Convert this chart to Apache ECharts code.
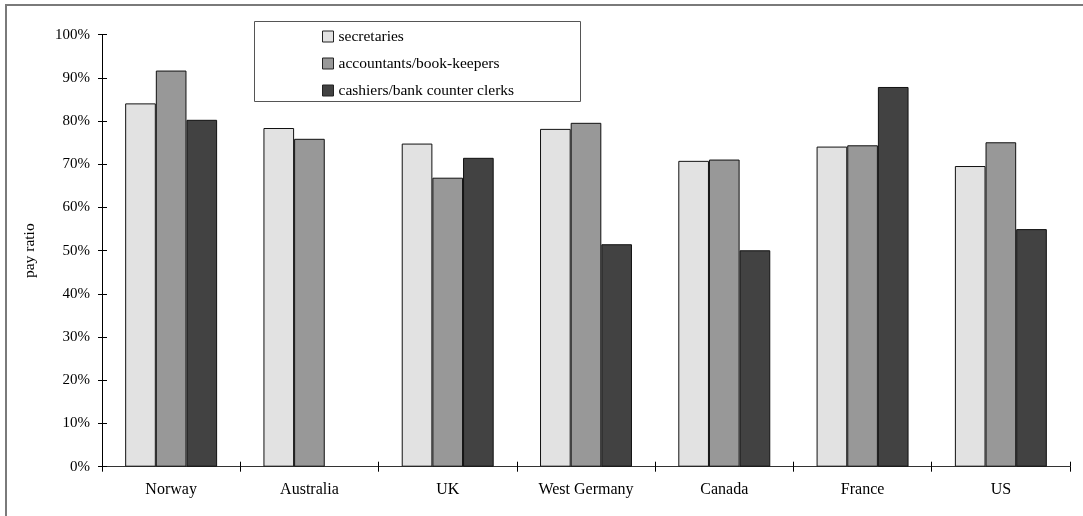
<!DOCTYPE html>
<html>
<head>
<meta charset="utf-8">
<script src="https://cdn.jsdelivr.net/npm/echarts@6/dist/echarts.min.js"></script>
<style>
  html, body { margin: 0; padding: 0; background: #fff; }
  #chart { width: 1083px; height: 516px; }
</style>
</head>
<body>
<div id="chart"></div>
<script>
// Pay ratio by occupation and country
const categories = ['Norway', 'Australia', 'UK', 'West Germany', 'Canada', 'France', 'US'];
const seriesNames = ['secretaries', 'accountants/book-keepers', 'cashiers/bank counter clerks'];
const secretaries = [84.1, 78.4, 74.8, 78.2, 70.8, 74.1, 69.6];
const accountants = [91.7, 75.9, 66.9, 79.6, 71.1, 74.4, 75.1];
const cashiers = [80.3, null, 71.5, 51.5, 50.1, 87.9, 55.0];
const yTicks = { min: 0, max: 100, interval: 10 };

const FONT = '"Liberation Serif", "Times New Roman", serif';
const colors = ['#e2e2e2', '#989898', '#424242'];
const values = [secretaries, accountants, cashiers];

const chart = echarts.init(document.getElementById('chart'), null, { renderer: 'canvas' });

const grid = { left: 102, right: 13, top: 34.7, bottom: 49.3, containLabel: false };

const option = {
  backgroundColor: '#fff',
  animation: false,
  textStyle: { fontFamily: FONT },
  grid: grid,
  graphic: [
    // outer frame
    { type: 'rect', shape: { x: 6, y: 5, width: 1100, height: 530 },
      style: { fill: 'none', stroke: '#7a7a7a', lineWidth: 2 }, silent: true, z: -1 },
    // legend frame
    { type: 'rect', shape: { x: 254.5, y: 21.5, width: 326, height: 80 },
      style: { fill: '#fff', stroke: '#555', lineWidth: 1 }, silent: true, z: 0 }
  ],
  legend: {
    orient: 'vertical',
    left: 322,
    top: 28.5,
    padding: 0,
    itemWidth: 11,
    itemHeight: 11,
    itemGap: 11,
    itemTextGap: 2,
    icon: 'rect',
    z: 10,
    itemStyle: { borderColor: '#222', borderWidth: 1 },
    textStyle: { fontFamily: FONT, fontSize: 15.5, color: '#000', lineHeight: 15 },
    data: seriesNames
  },
  xAxis: [
    {
      type: 'category',
      data: categories,
      boundaryGap: true,
      axisLine: { show: true, lineStyle: { color: '#333', width: 1 } },
      axisTick: { show: true, alignWithLabel: false, inside: false, length: 5, lineStyle: { color: '#000' } },
      axisLabel: { fontFamily: FONT, fontSize: 16, color: '#000', margin: 15, interval: 0 },
      splitLine: { show: false }
    },
    {
      type: 'category',
      data: categories,
      position: 'bottom',
      boundaryGap: true,
      axisLine: { show: false },
      axisTick: { show: true, inside: true, length: 5, lineStyle: { color: '#000' } },
      axisLabel: { show: false },
      splitLine: { show: false }
    }
  ],
  yAxis: [
    {
      type: 'value',
      min: yTicks.min,
      max: yTicks.max,
      interval: yTicks.interval,
      name: 'pay ratio',
      nameLocation: 'middle',
      nameRotate: 90,
      nameGap: 64,
      nameTextStyle: { fontFamily: FONT, fontSize: 15.5, color: '#000' },
      axisLine: { show: true, lineStyle: { color: '#000', width: 1 } },
      axisTick: { show: true, inside: false, length: 4, lineStyle: { color: '#000' } },
      axisLabel: { fontFamily: FONT, fontSize: 15, color: '#000', margin: 12, formatter: '{value}%' },
      splitLine: { show: false }
    },
    {
      type: 'value',
      position: 'left',
      min: yTicks.min,
      max: yTicks.max,
      interval: yTicks.interval,
      axisLine: { show: false },
      axisTick: { show: true, inside: true, length: 5, lineStyle: { color: '#000' } },
      axisLabel: { show: false },
      splitLine: { show: false }
    }
  ],
  series: seriesNames.map((name, i) => ({
    name: name,
    type: 'bar',
    xAxisIndex: 0,
    yAxisIndex: 0,
    data: values[i],
    barGap: '0%',
    barCategoryGap: '33.5%',
    itemStyle: { color: colors[i], borderColor: '#111', borderWidth: 1 },
    z: 2
  }))
};

chart.setOption(option);
</script>
</body>
</html>
